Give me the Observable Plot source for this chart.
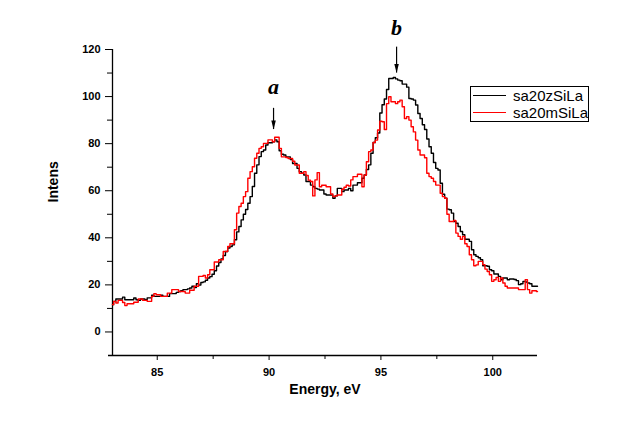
<!DOCTYPE html>
<html>
<head>
<meta charset="utf-8">
<script src="https://cdn.jsdelivr.net/npm/d3@7"></script>
<script src="https://cdn.jsdelivr.net/npm/@observablehq/plot@0.6"></script>
<style>
  body { margin: 0; background: #fff; }
  #chart { position: relative; width: 624px; height: 427px; }
  .legend {
    position: absolute; left: 470px; top: 86px; width: 117px; height: 34px;
    border: 1.5px solid #000; background: #fff;
    font-family: "Liberation Sans", Arial, sans-serif; font-size: 15px;
  }
  .legend .row { position: absolute; left: 2px; height: 17px; display: flex; align-items: center; white-space: nowrap; }
  .legend .sw { display: inline-block; width: 33px; border-top: 1.3px solid; margin-right: 7px; }
</style>
</head>
<body>
<div id="chart"></div>
<script>
// energy grid, 0.1 eV steps from 83 to 102
const energies = d3.range(191).map(i => (830 + i) / 10)

// sa20zSiLa (black)
const zSiLa = [
  11.6, 13, 14, 14, 14, 14.8, 13.7, 13.7, 13.7, 13.7,
  14.4, 13.7, 13.4, 14, 14, 13.7, 14.5, 14.5, 15.6, 15.1,
  15.1, 15.1, 15.6, 15.1, 15.1, 15.1, 16.3, 16.3, 16.3, 16.8,
  17.2, 17.5, 18, 18, 18.3, 18.7, 19.4, 18.9, 20.5, 19.9,
  21, 21.3, 22, 22.9, 23.5, 24.5, 26, 28, 29.5, 31,
  32.5, 34.2, 35.7, 36.3, 37, 39.2, 42.5, 44.8, 47.6, 50,
  52, 54.7, 57.5, 61.8, 67.4, 71, 74.5, 76.6, 77.3, 79.4,
  80.4, 80.4, 80.8, 81.6, 80.8, 77, 75.5, 75.2, 74.4, 74.4,
  73.3, 71.6, 71.6, 69.5, 68.1, 67.4, 66.7, 63.9, 63.9, 62.4,
  61.7, 61, 60.7, 60.3, 60.3, 58.6, 58.2, 58.2, 58.2, 56.8,
  57.8, 61, 61, 59.6, 60.3, 60.3, 61, 60, 62.4, 62.4,
  63.4, 63.4, 65.3, 66.7, 69, 71, 75.9, 80.5, 82.5, 84.5,
  93, 96.5, 99, 103, 107.7, 107.7, 108.1, 107.5, 107, 106.7,
  105.3, 105.3, 104, 99.2, 99, 98.5, 96.4, 92.8, 90.7, 88,
  86, 82, 78.7, 75.9, 72, 69.5, 68.8, 63.2, 58.5, 56.8,
  52.2, 51.9, 50.5, 46.9, 46.2, 44.8, 42.7, 41.3, 39.4, 39.4,
  38.5, 34.9, 32.8, 32.1, 31.5, 30.7, 28.1, 28.1, 27.9, 26.4,
  26, 24.6, 24.6, 23.6, 22.2, 22.9, 22.9, 22.2, 22.5, 22.5,
  22.3, 21.8, 20.1, 20.5, 21.5, 21.2, 20.8, 20.5, 19.4, 19.4,
  19.4
]

// sa20mSiLa (red)
const mSiLa = [
  11.6, 13, 12.3, 13.4, 13.4, 12.5, 11.2, 12, 12, 12,
  12.6, 12.6, 14, 14, 13.4, 13.4, 13, 13, 15.1, 16.3,
  15.8, 15.8, 15.1, 15.1, 15.1, 16.5, 16.5, 18, 18, 18,
  17.2, 17.2, 17.2, 16.5, 16.5, 17.7, 17.7, 19.4, 19.4, 23.6,
  23.6, 24, 22.9, 24.3, 26.4, 26.4, 29.7, 29.7, 30.7, 30.7,
  34.2, 34.2, 36.3, 37.5, 37.5, 43.4, 50.5, 53.3, 54.7, 57.5,
  59.6, 65.3, 68.1, 70.2, 73.8, 75.9, 78, 78.7, 80.1, 80.1,
  81.6, 81.6, 80.8, 82.7, 82.7, 78, 74.4, 74.4, 74.1, 73.7,
  73.7, 72.5, 70.9, 70.9, 67.4, 67.4, 68.1, 66.5, 64.5, 63.9,
  57.8, 64.6, 67.7, 61.7, 62.3, 62.3, 61.7, 61.7, 58.6, 57.5,
  57.8, 58.2, 58.2, 60.6, 61.5, 62.3, 62, 64.6, 66, 66,
  67, 67, 61.7, 66.7, 72.3, 76.6, 77.3, 80.5, 81.5, 85.8,
  89.5, 89.3, 86, 97, 99.9, 97.8, 97.8, 97, 97.8, 98.5,
  95.7, 90.7, 91.5, 90, 87.2, 85, 81.5, 77.3, 75.2, 75.2,
  74, 67.4, 66, 65.3, 63.9, 62.4, 62.4, 58.9, 57.5, 56.8,
  50, 46.9, 46.9, 47.4, 42, 40.6, 39.4, 40.6, 37.5, 36.3,
  32.8, 30.7, 28.1, 28.5, 30, 30, 28.6, 26.7, 25.7, 24.3,
  21.5, 22.2, 23.2, 21.5, 22.9, 20.8, 19.4, 18.7, 18.7, 18.7,
  18.7, 18.7, 18, 18, 18, 22.2, 18, 16.5, 17.5, 17.5,
  17.2
]

const seriesNames = ['sa20zSiLa', 'sa20mSiLa']
const seriesColors = ['#000000', '#ff0000']

const xMajorTicks = [85, 90, 95, 100]
const xMinorTicks = [87.5, 92.5, 97.5]
const yMajorTicks = [0, 20, 40, 60, 80, 100, 120]
const yMinorTicks = [10, 30, 50, 70, 90, 110]

// peak markers a and b
const peakLabels = ['a', 'b']
const peakEnergy = [90.2, 95.7]
const arrowTip = [86, 110]
const arrowTail = [95, 121]
const labelLevel = [104, 129]

const rows = energies.map((e, i) => ({energy: e, z: zSiLa[i], m: mSiLa[i]}))
const peaks = peakLabels.map((p, i) => ({
  label: p, energy: peakEnergy[i], tip: arrowTip[i], tail: arrowTail[i], at: labelLevel[i]
}))

// narrow arrow head, tip at the anchor point
const arrowHead = {
  draw(context, size) {
    const h = Math.sqrt(size) * 1.7
    context.moveTo(0, 0)
    context.lineTo(-h / 4, -h)
    context.lineTo(h / 4, -h)
    context.closePath()
  }
}

const chart = Plot.plot({
  width: 624,
  height: 427,
  marginLeft: 112,
  marginRight: 87,
  marginTop: 49,
  marginBottom: 72,
  x: {domain: [83, 102]},
  y: {domain: [-10, 120]},
  style: {fontFamily: '"Liberation Sans", Arial, sans-serif', color: 'black', background: 'white'},
  marks: [
    Plot.ruleX([83], {strokeWidth: 1.3}),
    Plot.ruleY([-10], {strokeWidth: 1.3, insetLeft: -4}),
    Plot.axisY(yMajorTicks, {tickSize: 7, tickPadding: 5, fontSize: 11, fontWeight: 'bold', label: null}),
    Plot.axisY(yMinorTicks, {tickSize: 5, tickFormat: () => '', label: null}),
    Plot.axisX(xMajorTicks, {tickSize: 5, tickPadding: 8, fontSize: 11, fontWeight: 'bold', label: null}),
    Plot.axisX(xMinorTicks, {tickSize: 4, tickFormat: () => '', label: null}),
    Plot.text(['Energy, eV'], {frameAnchor: 'bottom', dy: 38, fontSize: 14, fontWeight: 'bold'}),
    Plot.text(['Intens'], {frameAnchor: 'left', dx: -59, rotate: -90, fontSize: 14, fontWeight: 'bold'}),
    Plot.line(rows, {x: 'energy', y: 'z', curve: 'step', stroke: seriesColors[0], strokeWidth: 1.4}),
    Plot.line(rows, {x: 'energy', y: 'm', curve: 'step', stroke: seriesColors[1], strokeWidth: 1.4}),
    Plot.ruleX(peaks, {x: 'energy', y1: 'tip', y2: 'tail', strokeWidth: 1.2}),
    Plot.dot(peaks, {x: 'energy', y: 'tip', symbol: arrowHead, r: 3, fill: 'black', stroke: null}),
    Plot.text(peaks, {
      x: 'energy', y: 'at', text: 'label', fontSize: 22, fontStyle: 'italic', fontWeight: 'bold',
      fontFamily: '"Liberation Serif", "Times New Roman", serif'
    }),
  ],
})

d3.select('#chart').append(() => chart)

// legend box inside the plot, upper right
const legend = d3.select('#chart').append('div').attr('class', 'legend')
seriesNames.forEach((name, i) => {
  const row = legend.append('div').attr('class', 'row').style('top', (i * 17) + 'px')
  row.append('span').attr('class', 'sw').style('border-color', seriesColors[i])
  row.append('span').text(name)
})
</script>
</body>
</html>
